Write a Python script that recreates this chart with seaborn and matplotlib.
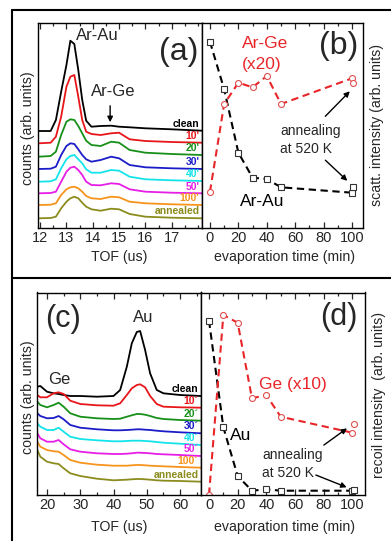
import matplotlib
matplotlib.use('Agg')
import matplotlib.pyplot as plt
import matplotlib.transforms as mtransforms
from matplotlib.lines import Line2D
from matplotlib.ticker import MultipleLocator, FixedLocator
import seaborn as sns

# ---------------- data ----------------
samples_a = ["clean", "10'", "20'", "30'", "40'", "50'", "100'", "annealed"]
samples_c = ["clean", "10\u00b4", "20\u00b4", "30\u00b4", "40\u00b4", "50\u00b4", "100\u00b4", "annealed"]
colors = ["#000000", "#e8161b", "#17901a", "#1c1cc8", "#14e4ea", "#e61ee6", "#f7941d", "#8c8c1e"]
ticks_a = [12, 13, 14, 15, 16, 17]

# panel (a): TOF spectra (stacked, arb. units)
tof_a = [11.95, 12.4, 12.6, 12.8, 13.0, 13.15, 13.3, 13.45, 13.6, 13.75, 13.95,
         14.3, 14.7, 15.0, 15.4, 16.0, 17.0, 18.15]
a_clean = [97, 97, 108, 136.3, 163, 187.3, 184, 158, 128, 107.3, 101.3, 102, 102.3, 101.3, 100.7, 99.7, 98.7, 97.3]
a_10 = [84.7, 85.3, 91.3, 111.3, 141.3, 151.3, 153, 131.3, 108, 96.3, 94, 93, 94.7, 95.3, 88.7, 87, 86, 85.3]
a_20 = [71.3, 72, 76.3, 93, 106.3, 108.7, 108, 102, 94.7, 87.3, 83, 82, 86.3, 85.3, 78, 75.3, 74, 73]
a_30 = [59, 59.3, 61.3, 73, 82, 84.7, 84, 78.7, 73, 68.7, 66.3, 68, 71.3, 69.7, 63, 60.7, 59.7, 59]
a_40 = [46.3, 46.7, 48.7, 59.7, 68.7, 72, 73, 68.7, 64.7, 58.7, 55.3, 55.3, 58, 57.3, 51.3, 48.7, 47.7, 47]
a_50 = [34.7, 35, 36.3, 46.3, 56.3, 60.3, 61.3, 58, 53, 46.3, 43, 42.7, 44.7, 44, 38.7, 36.3, 35.3, 34.7]
a_100 = [23, 23.3, 24.7, 33, 38.7, 40.7, 41.3, 39.7, 36.3, 32, 29.7, 29, 31.3, 30.7, 26.3, 24.7, 23.7, 23]
a_ann = [9.7, 10, 11.3, 19.7, 26.3, 29.7, 31.3, 29.7, 25.3, 21.3, 18.7, 17.3, 19.3, 18.7, 14, 11.3, 10.3, 9.7]
curves_a = [a_clean, a_10, a_20, a_30, a_40, a_50, a_100, a_ann]

# panel (b): scattering intensity vs evaporation time
time_min = [0, 10, 20, 30, 40, 50, 100]
time_annealed = [101]
b_arau = [186.3, 138.7, 75.3, 50.3, 49, 40.7, 35.3]
b_arge = [36.3, 124, 145.3, 140.7, 152, 124, 149.7]
b_arau_ann = [41.3]
b_arge_ann = [145.3]

# panel (c): recoil TOF spectra (stacked, arb. units)
tof_c = [17.1, 18, 20, 22, 23.5, 25, 27, 30, 35, 40, 42, 44, 45.5, 47, 48, 49.5, 51, 53, 55, 60, 66.3]
c_clean = [100.3, 101, 95.3, 93.7, 93, 92, 91, 91, 90.3, 91, 97, 120.3, 143.7, 155, 156, 137, 113.7, 97, 93.7, 92, 91]
c_10 = [92, 89.7, 89.7, 93.7, 94.7, 93, 86.3, 83, 81.7, 81.3, 83.7, 92, 98.7, 102, 102.7, 99.7, 91, 83, 80.3, 79.7, 79.3]
c_20 = [85.3, 82, 79.7, 82, 84.3, 80.3, 73.7, 70.3, 68.7, 68, 68.3, 70.3, 71.7, 73, 73, 72.3, 71, 69, 68, 67, 66.3]
c_30 = [73.7, 71, 68.7, 69, 71, 67.7, 62, 59.3, 57.7, 56.7, 56.7, 57, 57.3, 57.7, 57.7, 57.3, 57, 56.3, 55.7, 54.7, 53.7]
c_40 = [63.7, 60.3, 57, 57, 59.3, 55.3, 50.3, 48, 46.7, 45.7, 45.7, 46, 46.3, 46.3, 46.3, 46, 45.7, 45, 44.3, 43.3, 42]
c_50 = [53.7, 48.7, 45.3, 45.3, 47, 42.7, 37.7, 35.3, 33.7, 33, 33, 33.3, 33.7, 34.3, 34.3, 34, 33.7, 33, 32.7, 32, 31]
c_100 = [45.3, 40.3, 37, 35.7, 35.3, 32, 27, 24.3, 22.3, 21.3, 21.3, 21.3, 21.7, 22, 22, 21.7, 21.3, 21, 20.7, 20, 19.3]
c_ann = [37, 30.3, 25.3, 23.7, 23, 18.7, 13.7, 11, 8.3, 6.7, 7, 7.3, 7.7, 8, 8, 7.7, 7.3, 6.7, 6.3, 6, 5.3]
curves_c = [c_clean, c_10, c_20, c_30, c_40, c_50, c_100, c_ann]

# panel (d): recoil intensity vs evaporation time
d_au = [174.3, 67.7, 19, 4.3, 5.7, 4.3, 4.3]
d_ge = [0.3, 180, 172.3, 96.7, 100, 78.3, 62.3]
d_au_ann = [5.5]
d_ge_ann = [70.7]

# ---------------- style ----------------
sns.set_style('ticks')
plt.rcParams['font.family'] = ['Liberation Sans', 'DejaVu Sans']
plt.rcParams['xtick.direction'] = 'in'
plt.rcParams['ytick.direction'] = 'in'

W, H = 391, 541
fig = plt.figure(figsize=(W / 100, H / 100), dpi=100)


def add_ax(l, t, r, b):
    return fig.add_axes([l / W, 1 - b / H, (r - l) / W, (b - t) / H])


ax_a = add_ax(38, 22.5, 202, 228)
ax_b = add_ax(202, 22.5, 363, 228)
ax_c = add_ax(37, 292.5, 201, 495)
ax_d = add_ax(201, 292.5, 365, 495)

RED = "#e8262a"
RED_M = "#e05050"
DARK = "#333333"
TICK_FS = 10.5
LAB_FS = 10.2
DASH = (3.5, 2.2)
ARROW = dict(arrowstyle='-|>', color='black', lw=1.0, mutation_scale=8)


def style_axis(ax, major, minor):
    for s in ax.spines.values():
        s.set_linewidth(1.0)
        s.set_color('black')
    if isinstance(major, list):
        ax.xaxis.set_major_locator(FixedLocator(major))
    else:
        ax.xaxis.set_major_locator(MultipleLocator(major))
    ax.xaxis.set_minor_locator(MultipleLocator(minor))
    ax.tick_params(axis='x', which='both', direction='in', top=True, bottom=True,
                   labelsize=TICK_FS, pad=2, width=0.9)
    ax.tick_params(axis='x', which='major', length=4)
    ax.tick_params(axis='x', which='minor', length=2)
    ax.tick_params(axis='y', which='both', left=False, right=False, labelleft=False)
    ax.set_yticks([])
    ax.set_xlabel('')
    ax.set_ylabel('')


def series(ax, x, y, color, marker, mec, ms, with_line=True):
    sns.lineplot(x=x, y=y, ax=ax, color=color, lw=1.5 if with_line else 0,
                 marker=marker, markersize=ms, markerfacecolor='white',
                 markeredgecolor=mec, markeredgewidth=0.8)
    ln = ax.lines[-1]
    if with_line:
        ln.set_dashes(DASH)
    else:
        ln.set_linestyle('none')


# ---- panel (a)
for vals, col in zip(curves_a, colors):
    sns.lineplot(x=tof_a, y=vals, ax=ax_a, color=col, lw=1.3, sort=False)
ax_a.set_xlim(11.92, 18.15)
ax_a.set_ylim(0, 205.5)
style_axis(ax_a, ticks_a, 0.5)
tr_a = mtransforms.blended_transform_factory(ax_a.transAxes, ax_a.transData)
for vals, lab, col in zip(curves_a, samples_a, colors):
    ax_a.text(0.985, vals[-1] + 6.8, lab, transform=tr_a, ha='right', va='center',
              color=col, fontsize=7.5, fontweight='bold')
ax_a.text(14.19, 193, "Ar-Au", ha='center', va='center', fontsize=12)
ax_a.text(14.76, 136, "Ar-Ge", ha='center', va='center', fontsize=12)
ax_a.annotate('', xy=(14.66, 103), xytext=(14.66, 125), arrowprops=ARROW)
ax_a.text(17.25, 176, "(a)", ha='center', va='center', fontsize=23)

# ---- panel (b)
series(ax_b, time_min, b_arau, 'black', 's', DARK, 4)
series(ax_b, time_min, b_arge, RED, 'o', RED_M, 4.3)
series(ax_b, time_annealed, b_arau_ann, DARK, 's', DARK, 4, with_line=False)
series(ax_b, time_annealed, b_arge_ann, RED, 'o', RED_M, 4.3, with_line=False)
ax_b.set_xlim(-5.6, 107.7)
ax_b.set_ylim(0, 205.5)
style_axis(ax_b, 20, 10)
ax_b.text(38.7, 185, "Ar-Ge", color=RED, ha='center', va='center', fontsize=12.5)
ax_b.text(36.6, 163, "(x20)", color=RED, ha='center', va='center', fontsize=12.5)
ax_b.text(37, 26, "Ar-Au", color='black', ha='center', va='center', fontsize=12.5)
ax_b.text(90.8, 182, "(b)", ha='center', va='center', fontsize=23)
ax_b.text(49.3, 97, "annealing", ha='left', va='center', fontsize=10)
ax_b.text(49.3, 79, "at 520 K", ha='left', va='center', fontsize=10)
ax_b.annotate('', xy=(99.8, 138.7), xytext=(79.8, 109.7), arrowprops=ARROW)
ax_b.annotate('', xy=(98.1, 45.3), xytext=(79.8, 69.7), arrowprops=ARROW)

# ---- panel (c)
for vals, col in zip(curves_c, colors):
    sns.lineplot(x=tof_c, y=vals, ax=ax_c, color=col, lw=1.3, sort=False)
ax_c.set_xlim(17.0, 66.3)
ax_c.set_ylim(-8, 194.5)
style_axis(ax_c, 10, 5)
tr_c = mtransforms.blended_transform_factory(ax_c.transAxes, ax_c.transData)
for vals, lab, col in zip(curves_c, samples_c, colors):
    ax_c.text(0.985, vals[-1] + 7, lab, transform=tr_c, ha='right', va='center',
              color=col, fontsize=7.5, fontweight='bold')
ax_c.text(48.9, 170, "Au", ha='center', va='center', fontsize=12)
ax_c.text(23.7, 108, "Ge", ha='center', va='center', fontsize=12)
ax_c.text(24.7, 168, "(c)", ha='center', va='center', fontsize=22)

# ---- panel (d)
series(ax_d, time_min, d_au, 'black', 's', DARK, 4)
series(ax_d, time_min, d_ge, RED, 'o', RED_M, 4.3)
series(ax_d, time_annealed, d_au_ann, DARK, 's', DARK, 4, with_line=False)
series(ax_d, time_annealed, d_ge_ann, RED, 'o', RED_M, 4.3, with_line=False)
ax_d.set_xlim(-5.6, 108.9)
ax_d.set_ylim(0, 202.5)
style_axis(ax_d, 20, 10)
ax_d.text(58.3, 111, "Ge (x10)", color=RED, ha='center', va='center', fontsize=12.5)
ax_d.text(22.3, 59, "Au", color='black', ha='center', va='center', fontsize=12.5)
ax_d.text(90.4, 177.5, "(d)", ha='center', va='center', fontsize=22)
ax_d.text(37.0, 40, "annealing", ha='left', va='center', fontsize=10)
ax_d.text(37.0, 22, "at 520 K", ha='left', va='center', fontsize=10)
ax_d.annotate('', xy=(97.9, 68.3), xytext=(78.6, 48.3), arrowprops=ARROW)
ax_d.annotate('', xy=(97.9, 6.7), xytext=(72.8, 21), arrowprops=ARROW)


# ---- axis labels (placed in figure pixels)
def ftext(px, py, s, **kw):
    fig.text(px / W, 1 - py / H, s, ha='center', va='center', fontsize=LAB_FS, **kw)


ftext(119, 257, "TOF (us)")
ftext(284, 257, "evaporation time (min)")
ftext(119, 527, "TOF (us)")
ftext(284, 527, "evaporation time (min)")
ftext(28, 128, "counts (arb. units)", rotation=90)
ftext(377, 125, "scatt. intensity (arb. units)", rotation=90)
ftext(28, 397, "counts (arb. units)", rotation=90)
ftext(379, 395, "recoil intensity  (arb. units)", rotation=90)

# ---- outer frame lines
for (x0, y0, x1, y1) in [(12, 10, 12, 541), (12, 10, 391, 10), (12, 278, 391, 278)]:
    fig.add_artist(Line2D([x0 / W, x1 / W], [1 - y0 / H, 1 - y1 / H],
                          transform=fig.transFigure, color='black', lw=1.5))

fig.savefig('out.png', dpi=100)
